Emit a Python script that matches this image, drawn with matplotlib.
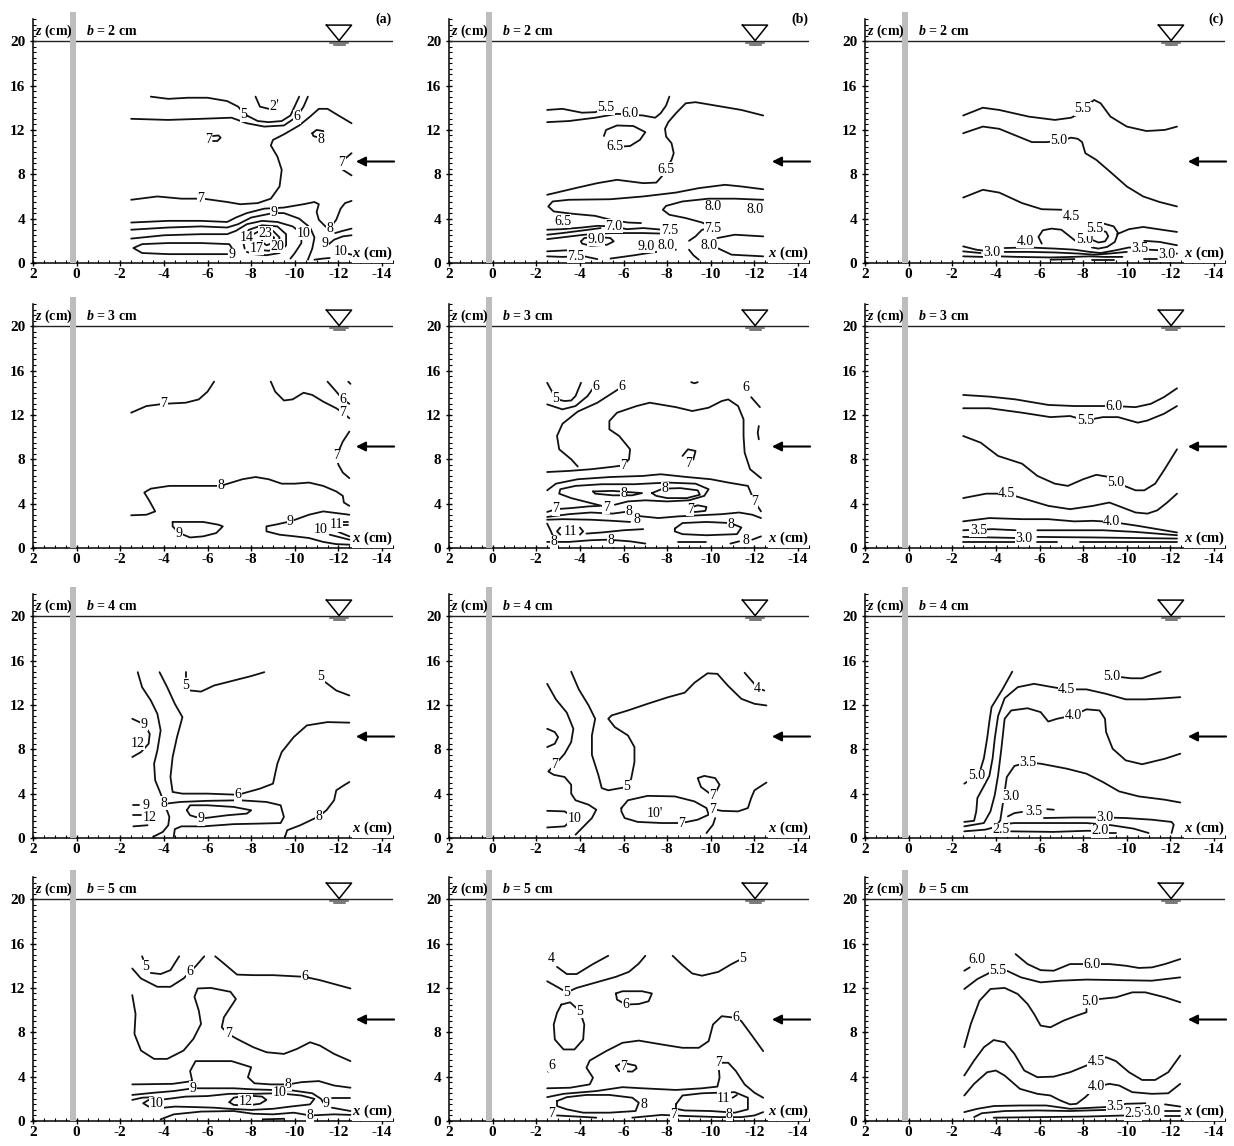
import matplotlib
matplotlib.use('Agg')
import matplotlib.pyplot as plt
from matplotlib.ticker import MultipleLocator

plt.rcParams['font.family'] = 'Liberation Serif'
plt.rcParams['font.weight'] = 'bold'
plt.rcParams['axes.unicode_minus'] = False
plt.rcParams['mathtext.fontset'] = 'custom'
plt.rcParams['mathtext.it'] = 'Liberation Serif:italic:bold'
plt.rcParams['mathtext.rm'] = 'Liberation Serif:bold'

# contour lines, (x cm, z cm); labels (x, z, text)
A1_LINES = [
    [(-3.4,15.0),(-4.2,14.8),(-5.1,14.9),(-6.0,14.9),(-6.9,14.6),(-7.4,14.1),(-7.7,13.4),(-8.3,12.8),(-8.8,12.7),(-9.4,12.8),(-9.8,13.3),(-10.2,15.0)],
    [(-2.5,13.0),(-4.2,12.9),(-5.7,13.0),(-7.1,13.1),(-7.8,12.6),(-8.6,12.3),(-9.5,12.4),(-10.1,13.2),(-10.4,14.1),(-10.6,15.0)],
    [(-8.2,15.0),(-8.4,14.1),(-8.8,13.9),(-9.1,14.1),(-9.2,14.7)],
    [(-2.5,5.7),(-3.7,6.0),(-4.8,5.8),(-5.8,5.8),(-6.9,5.5),(-7.5,5.3),(-8.3,5.4),(-8.9,5.8),(-9.3,6.9),(-9.4,8.4),(-9.2,9.6),(-8.9,10.6),(-9.0,11.1),(-9.5,11.6),(-10.2,12.4),(-10.7,13.2),(-11.1,13.9),(-11.5,13.9),(-12.0,13.3),(-12.6,12.6)],
    [(-6.25,11.45),(-6.5,11.5),(-6.6,11.3),(-6.45,11.0),(-6.25,11.0)],
    [(-10.8,11.7),(-11.0,12.0),(-11.3,11.9),(-11.35,11.5),(-11.1,11.3),(-10.85,11.45),(-10.8,11.7)],
    [(-12.6,9.9),(-12.3,9.4),(-12.15,9.0),(-12.2,8.4),(-12.6,7.9)],
    [(-2.5,3.65),(-4.2,3.8),(-5.7,3.8),(-6.9,3.7),(-7.3,4.1),(-7.8,4.5),(-8.6,4.9),(-9.5,5.0),(-10.4,5.3),(-10.9,5.5),(-11.1,5.3),(-11.0,4.6),(-11.1,3.9),(-11.4,3.3),(-11.6,3.15),(-11.9,3.9),(-12.1,4.9),(-12.3,5.4),(-12.6,5.6)],
    [(-2.5,3.0),(-4.2,3.2),(-5.7,3.3),(-6.9,3.2),(-7.4,3.5),(-8.0,4.1),(-9.0,4.5),(-9.5,4.5),(-10.2,4.0),(-10.7,3.2),(-10.9,2.3),(-10.8,1.3),(-10.6,0.3)],
    [(-2.5,2.2),(-4.0,2.5),(-5.7,2.6),(-6.9,2.6),(-7.3,2.9),(-7.8,3.5),(-8.5,3.8),(-9.2,3.7),(-9.9,3.3),(-10.3,2.7),(-10.3,1.8),(-10.0,0.9),(-9.8,0.4)],
    [(-7.2,1.1),(-7.0,1.7),(-5.7,1.8),(-4.2,1.8),(-3.0,1.7),(-2.6,1.35),(-3.0,0.9),(-4.2,0.8),(-5.7,0.8),(-6.9,0.8)],
    [(-7.7,1.3),(-7.6,2.2),(-7.9,3.0),(-8.5,3.4),(-9.2,3.3),(-9.6,2.6),(-9.6,1.6),(-9.3,0.9),(-8.7,0.7),(-8.1,0.8),(-7.8,1.0)],
    [(-8.0,1.8),(-8.1,2.6),(-8.5,3.0),(-9.0,2.9),(-9.3,2.3),(-9.2,1.4),(-8.8,1.1),(-8.3,1.2)],
    [(-8.5,1.9),(-8.5,2.4),(-8.8,2.6),(-9.05,2.3),(-9.0,1.8),(-8.7,1.6),(-8.5,1.9)],
    [(-11.85,2.7),(-12.2,2.9),(-12.6,3.1)],
    [(-11.5,1.6),(-11.8,2.1),(-12.2,2.4),(-12.6,2.5)],
    [(-12.3,0.9),(-12.6,0.75)],
    [(-10.9,0.3),(-11.3,0.4),(-11.6,0.45)],
]
A1_LABELS = [(-7.65,13.35,'5'),(-10.1,13.2,'6'),(-9.0,14.15,'2'),(-5.7,5.85,'7'),(-6.05,11.15,'7'),
             (-11.2,11.15,'8'),(-12.15,9.05,'7'),(-9.05,4.55,'9'),(-11.6,3.15,'8'),(-10.4,2.7,'10'),
             (-7.8,2.3,'14'),(-8.65,2.7,'23'),(-8.25,1.35,'17'),(-9.2,1.5,'20'),(-7.1,0.75,'9'),
             (-11.4,1.8,'9'),(-12.1,1.05,'10')]

B1_LINES = [
    [(-2.5,13.8),(-3.2,13.9),(-4.1,13.55),(-4.7,13.6),(-5.0,13.8)],
    [(-2.5,12.7),(-3.5,12.8),(-4.7,13.1),(-5.7,13.45),(-6.9,13.3),(-7.45,13.1),(-7.7,13.5),(-7.95,14.2),(-8.1,15.0)],
    [(-5.1,11.45),(-5.2,12.0),(-5.7,12.4),(-6.45,12.35),(-7.0,11.8),(-6.75,11.1),(-6.3,10.55),(-5.9,10.5)],
    [(-2.5,6.15),(-3.9,6.8),(-4.8,7.2),(-5.7,7.5),(-6.9,7.2),(-7.5,7.25),(-7.75,7.8),(-7.95,8.45),(-8.2,9.3),(-8.3,9.9),(-8.2,10.8),(-7.95,11.4),(-7.9,12.1),(-8.05,12.7),(-8.4,13.5),(-8.85,14.4),(-9.3,14.5),(-10.2,14.2),(-11.4,13.8),(-12.4,13.3)],
    [(-12.4,6.65),(-11.4,6.9),(-10.65,7.05),(-9.45,6.75),(-8.4,6.35),(-6.9,6.0),(-5.4,5.75),(-3.5,5.7),(-2.75,5.55),(-2.55,5.1),(-2.8,4.65),(-3.6,4.45),(-4.7,4.25),(-5.4,3.9),(-6.2,3.65),(-6.8,3.6)],
    [(-12.4,5.7),(-11.1,5.8),(-9.9,5.8),(-8.7,5.55),(-7.95,5.15),(-7.8,4.8),(-8.1,4.35),(-8.85,4.05),(-9.6,3.65),(-10.1,3.15),(-9.6,3.0),(-9.3,2.4),(-9.0,2.0)],
    [(-9.0,1.2),(-9.2,0.7),(-9.45,0.3)],
    [(-2.5,3.0),(-3.2,3.05),(-4.1,3.2),(-4.8,3.35),(-5.55,3.3),(-6.15,3.05),(-6.9,3.15),(-7.5,3.05),(-8.1,2.95)],
    [(-2.5,2.55),(-3.2,2.7),(-4.2,2.95),(-4.95,3.15)],
    [(-2.5,2.15),(-3.35,2.35),(-4.2,2.55),(-5.4,2.7),(-6.9,2.7),(-7.8,2.65)],
    [(-4.05,1.95),(-4.2,2.25),(-4.8,2.35),(-5.4,2.25),(-5.55,1.95),(-5.25,1.65),(-4.5,1.55),(-4.1,1.75),(-4.05,1.95)],
    [(-2.5,1.05),(-3.45,1.15)],
    [(-2.5,0.6),(-3.2,0.55),(-3.8,0.6),(-4.2,0.6),(-4.8,0.35)],
    [(-5.4,0.4),(-6.5,0.7),(-7.3,0.95),(-8.0,1.1),(-8.4,1.2)],
    [(-10.3,2.25),(-11.1,2.55),(-12.4,2.4)],
    [(-10.3,1.35),(-10.95,0.75),(-12.4,0.6)],
]
B1_LABELS = [(-5.2,14.0,'5.5'),(-6.3,13.45,'6.0'),(-5.6,10.5,'6.5'),(-7.95,8.45,'6.5'),(-10.1,5.1,'8.0'),
             (-12.05,4.8,'8.0'),(-10.1,3.15,'7.5'),(-3.2,3.75,'6.5'),(-5.55,3.3,'7.0'),(-8.1,2.95,'7.5'),
             (-4.75,2.15,'9.0'),(-3.8,0.6,'7.5'),(-7.05,1.5,'9.0'),(-7.95,1.55,'8.0'),(-9.9,1.55,'8.0')]

C1_LINES = [
    [(-2.5,13.3),(-3.4,14.0),(-4.15,13.8),(-5.5,13.2),(-6.7,12.9),(-7.45,13.1),(-7.7,13.35)],
    [(-8.3,14.4),(-8.5,14.7),(-8.8,14.4),(-9.25,13.2),(-10.0,12.3),(-10.9,11.9),(-11.75,12.0),(-12.3,12.3)],
    [(-2.5,11.7),(-3.4,12.3),(-4.15,12.1),(-4.9,11.5),(-5.65,10.9),(-6.3,10.9),(-6.9,11.0),(-7.45,11.3),(-7.75,11.2),(-7.95,10.9),(-8.1,9.9),(-8.6,9.3),(-9.25,8.2),(-10.0,6.9),(-10.75,6.0),(-11.5,5.5),(-12.3,5.1)],
    [(-2.5,5.9),(-3.4,6.6),(-4.15,6.35),(-5.2,5.4),(-6.1,4.85),(-7.0,4.8)],
    [(-6.1,1.75),(-5.95,2.35),(-6.15,2.95),(-6.55,3.1),(-7.0,3.0),(-7.45,2.3),(-7.7,1.9)],
    [(-8.2,1.7),(-8.15,2.6),(-8.45,3.3),(-8.95,3.55),(-9.4,3.3),(-9.6,2.7),(-9.45,1.9),(-9.1,1.45),(-8.7,1.3),(-8.4,1.4)],
    [(-8.45,3.1),(-8.7,3.0),(-9.05,2.8),(-9.15,2.4),(-9.0,1.95),(-8.7,1.85),(-8.45,2.05)],
    [(-9.55,2.6),(-10.1,3.05),(-10.75,3.25),(-11.6,3.0),(-12.3,2.8)],
    [(-2.5,1.5),(-3.1,1.2),(-3.5,1.1)],
    [(-2.5,1.05),(-3.3,0.9)],
    [(-2.5,0.6),(-3.4,0.55)],
    [(-4.4,1.35),(-5.5,1.4),(-6.7,1.3),(-7.6,1.2),(-8.3,1.0),(-8.8,0.9),(-9.5,1.15),(-10.1,1.4),(-10.4,1.35)],
    [(-4.4,1.0),(-5.5,1.0),(-6.7,0.95),(-7.8,0.85),(-8.5,0.75),(-9.2,0.85),(-10.0,1.0)],
    [(-4.1,0.6),(-5.0,0.55),(-6.5,0.5),(-7.5,0.55),(-8.3,0.6),(-9.0,0.55),(-9.8,0.55)],
    [(-6.5,0.3),(-7.6,0.35)],
    [(-8.4,0.3),(-9.4,0.3)],
    [(-10.8,2.0),(-11.5,1.9),(-12.3,1.6)],
    [(-11.0,1.2),(-11.5,1.15)],
    [(-12.1,0.8),(-12.3,0.85)],
    [(-10.8,0.4),(-11.4,0.4)],
]
C1_LABELS = [(-8.0,13.9,'5.5'),(-6.9,11.0,'5.0'),(-7.45,4.2,'4.5'),(-5.35,1.95,'4.0'),(-8.05,2.1,'5.0'),
             (-8.55,3.1,'5.5'),(-3.8,0.95,'3.0'),(-10.6,1.3,'3.5'),(-11.85,0.75,'3.0')]

A2_LINES = [
    [(-2.5,12.2),(-3.2,12.8),(-4.0,13.0),(-5.0,13.1),(-5.6,13.4),(-6.0,14.1),(-6.3,15.0)],
    [(-8.9,15.0),(-9.1,14.1),(-9.5,13.3),(-9.9,13.4),(-10.4,14.0),(-10.8,13.8),(-11.3,13.2),(-11.9,12.6),(-12.2,12.2),(-12.5,11.7)],
    [(-11.5,15.0),(-11.9,14.1),(-12.2,13.4),(-12.5,13.0)],
    [(-12.45,15.0),(-12.55,14.8)],
    [(-12.5,10.5),(-12.2,9.6),(-12.0,8.7),(-11.9,8.3),(-12.0,7.5),(-12.2,6.8),(-12.5,6.3)],
    [(-2.5,2.95),(-3.2,3.0),(-3.6,3.3),(-3.35,4.2),(-3.1,5.0),(-3.4,5.35),(-4.25,5.6),(-5.8,5.6),(-6.6,5.6),(-7.6,6.2),(-8.2,6.4),(-8.8,6.2),(-9.4,5.8),(-10.0,5.8),(-10.65,5.9),(-11.3,5.6),(-11.9,5.1),(-12.2,4.7),(-12.25,4.1),(-12.5,3.8)],
    [(-4.4,2.35),(-4.9,2.35),(-5.8,2.35),(-6.5,2.1),(-6.7,1.95),(-6.4,1.35),(-5.8,1.05),(-5.2,0.95),(-4.7,1.35),(-4.4,1.95),(-4.4,2.35)],
    [(-12.5,3.0),(-11.9,3.15),(-11.3,3.3),(-10.65,3.0),(-9.8,2.4),(-9.1,2.1),(-8.7,1.95),(-8.7,1.5),(-9.3,1.2),(-10.0,1.05),(-10.65,0.9),(-11.3,0.55),(-11.9,0.35),(-12.5,0.3)],
    [(-11.6,1.2),(-12.5,0.75)],
    [(-12.0,1.45),(-12.5,1.05)],
    [(-12.2,2.3),(-12.45,2.3)],
    [(-12.2,2.05),(-12.45,2.05)],
]
A2_LABELS = [(-4.0,13.0,'7'),(-12.2,12.2,'7'),(-12.2,13.4,'6'),(-11.9,8.3,'7'),(-6.6,5.6,'8'),
             (-4.7,1.35,'9'),(-9.8,2.4,'9'),(-11.2,1.65,'10'),(-11.9,2.1,'11')]

B2_LINES = [
    [(-2.5,14.9),(-2.75,14.0),(-2.95,13.4),(-3.3,13.25),(-3.6,13.3),(-3.8,13.7),(-4.05,14.9)],
    [(-2.5,12.95),(-3.2,12.5),(-3.8,12.8),(-4.35,13.7),(-4.6,14.4)],
    [(-5.75,14.3),(-4.8,13.1),(-3.9,12.3),(-3.2,11.2),(-2.95,10.1),(-3.05,8.9),(-3.6,8.0),(-3.9,7.35)],
    [(-2.5,6.85),(-3.5,6.95),(-4.5,7.1),(-5.4,7.3),(-6.0,7.45),(-6.25,8.0),(-6.3,8.9),(-5.8,10.1),(-5.35,10.7),(-5.35,11.45),(-5.7,12.2),(-6.6,12.8),(-7.2,13.1),(-8.4,12.7),(-9.15,12.35),(-9.9,12.65),(-10.5,13.25),(-10.8,13.4),(-11.25,12.8),(-11.5,11.6),(-11.5,10.1),(-11.55,8.6),(-11.8,7.1),(-12.3,6.3)],
    [(-8.7,8.3),(-8.95,8.9),(-9.3,8.75),(-9.2,8.0),(-9.05,7.7)],
    [(-12.2,11.0),(-12.15,10.4),(-12.2,9.8)],
    [(-11.85,13.6),(-12.25,12.7)],
    [(-9.1,14.95),(-9.25,14.85),(-9.4,14.95)],
    [(-2.5,5.2),(-2.9,5.8),(-3.9,6.2),(-5.4,6.4),(-6.9,6.5),(-7.7,6.65),(-8.9,6.4),(-10.0,6.2),(-10.8,5.9),(-11.7,5.6),(-12.0,4.2),(-12.3,3.3)],
    [(-4.6,5.1),(-5.5,5.15),(-6.5,5.0),(-6.85,4.95),(-6.4,4.75),(-5.5,4.75),(-4.7,4.9),(-4.6,5.1)],
    [(-7.3,4.95),(-7.8,5.35),(-8.6,5.4),(-9.4,5.2),(-9.5,4.8),(-8.9,4.5),(-8.0,4.5),(-7.5,4.7),(-7.3,4.95)],
    [(-5.2,3.7),(-4.4,4.1),(-3.6,4.5),(-3.05,4.9),(-3.1,5.3),(-3.8,5.6),(-5.0,5.75),(-6.5,5.75),(-8.0,5.9),(-9.3,5.8),(-9.9,5.3),(-9.7,4.7),(-9.0,4.3),(-8.0,4.2),(-7.0,4.3),(-6.2,4.2),(-5.6,3.9)],
    [(-2.5,3.25),(-2.9,3.5),(-3.6,3.6),(-4.4,3.75),(-4.9,3.8)],
    [(-2.5,2.8),(-3.5,3.05),(-4.5,3.2),(-5.5,3.1),(-6.25,3.3),(-6.6,2.9),(-7.6,2.7),(-8.5,2.85),(-9.5,2.95),(-10.5,3.05),(-11.3,3.2),(-11.9,3.0),(-12.3,2.7)],
    [(-9.0,3.6),(-9.4,3.85),(-9.8,3.7),(-9.75,3.35),(-9.3,3.25),(-9.05,3.3)],
    [(-8.35,1.75),(-8.7,2.25),(-9.8,2.35),(-10.9,2.25),(-11.4,1.85),(-11.2,1.25),(-9.8,1.15),(-8.7,1.25),(-8.35,1.5),(-8.35,1.75)],
    [(-3.1,1.85),(-2.95,1.5),(-3.1,1.2)],
    [(-4.0,1.85),(-4.15,1.5),(-4.0,1.2)],
    [(-2.5,2.55),(-3.2,2.6),(-4.5,2.55),(-5.5,2.45),(-6.3,2.35)],
    [(-2.5,2.2),(-2.65,1.6),(-2.75,1.15)],
    [(-4.3,1.3),(-5.0,1.4),(-6.0,1.6),(-6.9,1.7)],
    [(-2.5,0.55),(-3.5,0.55),(-4.5,0.7),(-5.3,0.75),(-6.3,0.6),(-7.0,0.4)],
    [(-8.5,0.5),(-9.8,0.5)],
    [(-10.9,0.4),(-11.3,0.6)],
    [(-11.9,0.75),(-12.3,1.05)],
]
B2_LABELS = [(-2.9,13.5,'5'),(-4.75,14.55,'6'),(-5.9,14.6,'6'),(-6.0,7.45,'7'),(-9.0,7.65,'7'),
             (-11.6,14.5,'6'),(-12.0,4.2,'7'),(-6.0,4.95,'8'),(-7.9,5.35,'8'),(-5.2,3.65,'7'),
             (-2.9,3.55,'7'),(-6.25,3.3,'8'),(-6.6,2.55,'8'),(-9.05,3.5,'7'),(-10.9,2.15,'8'),
             (-3.55,1.5,'11'),(-2.8,0.55,'8'),(-5.4,0.7,'8'),(-11.6,0.7,'8')]

C2_LINES = [
    [(-2.5,13.8),(-3.7,13.65),(-4.9,13.4),(-6.4,12.9),(-7.6,12.8),(-9.4,12.8),(-10.4,12.7),(-11.1,13.0),(-11.7,13.6),(-12.3,14.4)],
    [(-2.5,12.6),(-3.7,12.6),(-5.2,12.2),(-6.5,11.8),(-7.4,11.9),(-8.1,11.5),(-8.9,11.8),(-9.6,11.8),(-10.5,11.3),(-10.95,11.5),(-11.7,12.1),(-12.3,12.8)],
    [(-2.5,10.1),(-3.3,9.5),(-4.1,8.3),(-5.2,7.6),(-5.9,6.5),(-6.7,5.8),(-7.3,5.6),(-8.0,6.2),(-8.6,6.6),(-9.2,6.4),(-9.5,5.9),(-10.4,5.2),(-10.8,5.2),(-11.3,5.8),(-11.7,7.0),(-12.3,8.9)],
    [(-2.5,4.5),(-3.55,4.9),(-4.5,4.9),(-5.2,4.5),(-6.4,3.8),(-7.4,3.5),(-8.45,3.8),(-9.2,4.1),(-9.6,3.8),(-10.4,3.2),(-10.95,3.1),(-11.4,3.4),(-11.85,4.1),(-12.3,4.9)],
    [(-2.5,2.4),(-3.7,2.7),(-5.2,2.6),(-6.4,2.6),(-7.6,2.4),(-8.45,2.45),(-9.3,2.35),(-10.5,2.0),(-11.4,1.7),(-12.3,1.4)],
    [(-2.5,1.6),(-3.85,1.7),(-4.9,1.6)],
    [(-5.9,1.6),(-7.4,1.6),(-8.9,1.6),(-10.4,1.45),(-12.3,1.15)],
    [(-2.5,1.0),(-3.85,0.95),(-5.0,0.9)],
    [(-5.9,1.0),(-8.5,0.95),(-12.3,0.85)],
    [(-2.5,0.5),(-4.9,0.5)],
    [(-5.9,0.5),(-6.8,0.5)],
    [(-7.85,0.5),(-12.3,0.5)],
]
C2_LABELS = [(-9.4,12.8,'6.0'),(-8.1,11.5,'5.5'),(-9.5,5.9,'5.0'),(-4.5,4.9,'4.5'),(-9.3,2.35,'4.0'),
             (-3.2,1.6,'3.5'),(-5.3,0.9,'3.0')]

A3_LINES = [
    [(-5.2,13.3),(-5.7,13.2),(-6.3,13.75),(-7.2,14.2),(-8.0,14.6),(-8.6,14.95)],
    [(-5.0,14.95),(-5.0,14.5)],
    [(-11.4,14.05),(-11.9,13.3),(-12.5,12.85)],
    [(-2.8,14.95),(-3.0,13.6),(-3.4,12.4),(-3.7,11.2),(-3.85,9.7),(-3.7,7.9),(-3.55,6.7),(-3.6,5.2),(-3.85,4.0),(-4.0,3.15)],
    [(-3.8,14.95),(-4.15,13.6),(-4.5,12.1),(-4.85,10.9),(-4.6,9.1),(-4.4,7.3),(-4.3,5.5),(-4.4,4.15),(-4.85,4.0),(-6.0,4.0),(-7.4,3.9),(-8.4,4.45),(-9.0,4.9),(-9.2,6.7),(-9.4,7.75),(-9.95,9.1),(-10.55,10.15),(-11.5,10.45),(-12.5,10.4)],
    [(-2.55,10.75),(-3.1,10.25),(-3.35,9.4),(-3.3,8.5),(-2.95,7.75),(-2.55,7.3)],
    [(-9.55,0.1),(-9.65,0.7),(-10.25,1.15),(-11.1,1.95),(-11.45,2.5),(-11.8,3.4),(-11.9,4.3),(-12.25,4.75),(-12.5,5.05)],
    [(-4.45,0.1),(-4.5,0.8),(-4.8,1.05),(-5.8,1.05),(-7.2,1.25),(-8.4,1.3),(-9.35,1.35),(-9.5,1.9),(-9.35,2.95),(-8.7,3.25),(-7.5,3.4),(-6.0,3.35),(-4.75,3.25),(-4.1,3.1)],
    [(-5.05,2.5),(-5.2,2.95),(-6.0,2.95),(-7.2,2.8),(-8.0,2.5),(-7.8,2.2),(-6.9,2.05),(-5.7,1.75),(-5.2,2.05),(-5.05,2.5)],
    [(-2.6,2.95),(-2.85,2.95)],
    [(-2.6,2.05),(-2.95,2.05)],
    [(-2.6,1.05),(-3.25,1.15)],
    [(-3.5,0.1),(-3.95,0.55),(-4.2,1.15),(-4.25,1.9),(-4.1,2.7)],
]
A3_LABELS = [(-5.0,13.75,'5'),(-11.2,14.6,'5'),(-7.4,3.9,'6'),(-3.1,10.25,'9'),(-2.8,8.55,'12'),
             (-11.1,1.95,'8'),(-4.0,3.15,'8'),(-5.7,1.75,'9'),(-3.2,2.9,'9'),(-3.35,1.85,'12')]

B3_LINES = [
    [(-2.5,13.9),(-2.9,12.5),(-3.4,11.3),(-3.7,9.85),(-3.6,8.65),(-3.3,7.6),(-2.85,6.6),(-2.55,6.0),(-2.8,5.7),(-3.3,5.5),(-3.6,4.8),(-3.6,4.0),(-3.8,3.4),(-4.4,3.0),(-4.75,2.55),(-4.55,1.8),(-4.1,0.9),(-3.8,0.3)],
    [(-2.5,9.85),(-2.85,9.55),(-3.0,9.1),(-2.85,8.5),(-2.5,8.2)],
    [(-2.5,2.45),(-3.3,2.4),(-3.6,2.0)],
    [(-3.6,1.6),(-3.3,1.05),(-2.5,0.95)],
    [(-3.6,15.0),(-3.95,13.4),(-4.4,11.95),(-4.7,10.75),(-4.55,9.25),(-4.55,7.5),(-4.85,5.65),(-5.0,4.5),(-5.3,4.3),(-6.15,4.6),(-6.35,5.35),(-6.5,6.85),(-6.5,8.2),(-6.2,9.25),(-5.6,10.0),(-5.3,10.75),(-5.45,11.05),(-6.2,11.5),(-7.1,12.1),(-8.05,12.7),(-8.8,13.1),(-9.25,14.0),(-9.85,14.85),(-10.3,14.8),(-10.8,13.7),(-11.4,12.55),(-12.0,12.1),(-12.55,11.95)],
    [(-11.55,14.9),(-11.95,14.0),(-12.15,13.5),(-12.45,13.3)],
    [(-5.9,2.7),(-6.2,3.4),(-7.1,3.8),(-8.35,3.75),(-9.25,3.3),(-9.8,2.7),(-9.9,2.1),(-9.4,1.65),(-8.65,1.35),(-7.75,1.35),(-6.65,1.45),(-6.05,1.8),(-5.9,2.4),(-5.9,2.7)],
    [(-10.1,3.8),(-9.55,4.6),(-9.4,5.4),(-9.7,5.6),(-10.2,5.4),(-10.4,4.8),(-10.25,4.2),(-10.1,3.8)],
    [(-10.1,2.6),(-10.5,2.45),(-11.25,2.4),(-11.7,2.7),(-11.85,3.6),(-12.0,4.3),(-12.55,5.0)],
    [(-10.2,1.8),(-10.1,1.2),(-9.8,0.45)],
]
B3_LABELS = [(-2.85,6.6,'7'),(-3.75,1.8,'10'),(-6.15,4.6,'5'),(-12.15,13.5,'4'),(-7.45,2.25,"10'"),
             (-8.65,1.35,'7'),(-10.1,3.8,'7'),(-10.1,2.6,'7')]

C3_LINES = [
    [(-9.75,14.5),(-10.2,14.4),(-10.7,14.4),(-11.55,15.0)],
    [(-4.75,15.0),(-4.3,13.4),(-3.8,11.8),(-3.7,10.5),(-3.6,9.0),(-3.45,7.2),(-3.25,5.9),(-3.1,5.6),(-2.55,4.9)],
    [(-2.55,1.45),(-3.0,1.55),(-3.1,2.4),(-3.15,3.6),(-3.4,4.5),(-3.7,5.6),(-3.85,7.2),(-3.95,9.0),(-4.1,11.0),(-4.4,12.6),(-5.0,13.6),(-5.75,13.9),(-6.6,13.6),(-7.25,13.4),(-8.15,13.4),(-9.05,13.0),(-9.95,12.5),(-10.85,12.5),(-11.75,12.6),(-12.45,12.7)],
    [(-2.55,1.05),(-3.45,1.35),(-3.75,2.4),(-3.95,3.9),(-4.1,5.65),(-4.25,8.05),(-4.4,10.75),(-4.7,11.5),(-5.45,11.7),(-6.05,11.35),(-6.4,10.5),(-6.8,10.75),(-7.55,11.05),(-8.15,11.6),(-8.75,11.5),(-9.0,10.75),(-9.05,9.55),(-9.35,8.05),(-9.95,7.0),(-10.7,6.65),(-11.75,7.15),(-12.45,7.6)],
    [(-2.55,0.6),(-3.5,0.75),(-4.0,1.0),(-4.2,1.6),(-4.35,3.5),(-4.5,5.5),(-4.85,6.5),(-5.45,6.8),(-6.05,6.7),(-7.25,6.25),(-8.15,5.8),(-8.9,5.05),(-9.65,4.2),(-10.55,3.75),(-11.75,3.45),(-12.45,3.2)],
    [(-4.55,1.95),(-4.85,2.25),(-5.2,2.35)],
    [(-6.35,2.6),(-6.65,2.55)],
    [(-6.2,1.8),(-7.55,1.85),(-9.0,1.85),(-9.95,1.8),(-11.15,1.65),(-12.05,1.45),(-12.15,1.2),(-12.05,0.45)],
    [(-4.4,1.25),(-4.85,1.35),(-6.65,1.35),(-8.15,1.35),(-9.3,1.15),(-10.3,0.85),(-11.0,0.45)],
    [(-4.7,0.6),(-6.65,0.55),(-8.15,0.65),(-8.5,0.65)],
    [(-9.2,0.45),(-9.5,0.45)],
]
C3_LABELS = [(-9.3,14.55,'5.0'),(-3.1,5.6,'5.0'),(-7.25,13.4,'4.5'),(-7.55,11.05,'4.0'),(-5.45,6.8,'3.5'),
             (-4.7,3.75,'3.0'),(-5.75,2.4,'3.5'),(-9.0,1.85,'3.0'),(-4.25,0.75,'2.5'),(-8.75,0.65,'2.0')]

A4_LINES = [
    [(-3.4,13.35),(-3.85,13.25),(-4.3,13.6),(-4.7,14.85)],
    [(-3.0,14.85),(-3.05,14.6)],
    [(-2.55,13.75),(-2.95,12.85),(-3.7,12.1),(-4.3,12.1),(-4.9,12.85),(-5.2,13.45),(-5.5,14.05),(-5.85,14.85)],
    [(-6.35,14.85),(-6.75,14.2),(-7.35,13.2),(-8.1,13.15),(-9.0,13.15),(-10.45,13.0),(-11.15,12.7),(-11.8,12.35),(-12.55,11.95)],
    [(-2.55,11.35),(-2.7,9.65),(-2.65,7.85),(-2.95,6.35),(-3.55,5.6),(-4.15,5.6),(-4.9,6.35),(-5.35,7.4),(-5.7,8.75),(-5.6,9.95),(-5.4,11.2),(-5.55,11.95),(-6.15,12.0),(-7.05,11.65),(-7.3,11.0),(-7.05,10.25),(-6.75,9.35),(-6.65,8.45),(-6.95,7.85),(-7.35,7.4),(-8.1,6.65),(-8.7,6.2),(-9.5,6.05),(-10.1,6.5),(-10.7,7.1),(-11.15,6.8),(-11.8,6.05),(-12.55,5.4)],
    [(-2.55,3.3),(-4.4,3.35),(-5.3,3.6),(-5.2,4.5),(-5.45,5.4),(-7.1,5.4),(-8.0,4.85),(-7.85,3.95),(-8.15,3.4),(-8.9,3.3),(-9.7,3.3),(-10.3,3.5),(-11.1,3.6),(-11.8,3.2),(-12.55,3.0)],
    [(-2.55,2.35),(-3.55,2.55),(-4.45,2.7),(-5.35,2.95),(-6.0,2.95),(-7.2,2.95),(-8.1,2.85),(-9.0,2.8),(-9.9,2.75),(-10.8,2.5),(-11.2,2.0),(-11.3,1.65)],
    [(-11.7,2.05),(-12.55,2.05)],
    [(-11.7,1.2),(-12.55,0.9)],
    [(-4.0,1.95),(-5.0,2.2),(-6.0,2.25),(-7.0,2.45),(-8.1,2.45),(-9.25,2.5),(-10.3,2.3),(-10.9,2.0),(-10.7,1.5),(-9.8,1.3),(-9.0,1.1),(-8.0,1.0),(-7.0,1.1),(-6.3,1.2),(-5.5,1.25),(-4.5,1.3),(-4.0,1.2)],
    [(-2.55,1.9),(-3.0,2.1),(-3.5,2.15)],
    [(-3.3,1.9),(-3.05,1.6),(-3.3,1.3)],
    [(-7.0,1.7),(-7.2,2.1),(-7.8,2.3),(-8.5,2.2),(-8.7,1.9),(-8.4,1.55),(-7.8,1.4),(-7.2,1.45),(-7.0,1.7)],
    [(-3.85,0.15),(-4.45,0.6),(-5.7,0.85),(-7.2,0.9),(-8.1,0.65),(-9.0,0.6),(-9.95,0.75),(-10.7,0.5),(-11.8,0.6),(-12.55,0.55)],
    [(-8.55,0.15),(-9.5,0.2)],
]
A4_LABELS = [(-3.15,13.9,'5'),(-5.2,13.45,'6'),(-10.45,13.0,'6'),(-6.95,7.85,'7'),(-9.7,3.3,'8'),
             (-5.35,2.95,'9'),(-9.3,2.55,'10'),(-11.45,1.6,'9'),(-3.65,1.55,'10'),(-7.75,1.8,'12'),
             (-10.7,0.5,'8')]

B4_LINES = [
    [(-2.95,13.9),(-3.4,13.25),(-3.85,13.25),(-4.6,14.15),(-5.3,14.9)],
    [(-2.5,12.6),(-2.95,12.1),(-3.4,11.6),(-3.85,12.0),(-4.75,12.5),(-5.65,13.0),(-6.25,13.45),(-6.7,14.2),(-7.0,14.9)],
    [(-8.25,14.9),(-8.7,14.05),(-9.15,13.3),(-9.6,13.1),(-10.35,13.45),(-10.95,14.15),(-11.45,14.65)],
    [(-5.65,11.5),(-5.95,11.7),(-6.85,11.7),(-7.3,11.5),(-7.15,10.8),(-6.7,10.55),(-6.1,10.5),(-5.7,10.95),(-5.65,11.5)],
    [(-3.15,10.5),(-3.55,10.7),(-4.0,9.9),(-4.2,8.7),(-4.15,7.35),(-3.75,6.45),(-3.25,6.45),(-2.85,7.35),(-2.8,8.7),(-2.95,9.75),(-3.15,10.5)],
    [(-2.55,4.45),(-2.65,4.6)],
    [(-2.5,2.95),(-3.55,3.0),(-4.45,3.3),(-4.6,3.9),(-4.3,4.8),(-4.45,5.45),(-5.2,6.3),(-5.95,7.05),(-6.7,7.25),(-7.75,6.9),(-8.7,6.6),(-9.45,6.6),(-9.9,7.2),(-10.1,8.7),(-10.5,9.45),(-11.15,9.3),(-11.4,9.0),(-11.85,7.8),(-12.4,6.3)],
    [(-5.65,4.95),(-5.95,5.25),(-6.55,5.0),(-6.6,4.75),(-6.4,4.45),(-5.8,4.5),(-5.65,4.95)],
    [(-2.5,2.15),(-3.25,2.45),(-4.75,2.7),(-5.95,3.05),(-6.85,2.95),(-8.4,2.8),(-9.6,2.95),(-10.3,3.1),(-10.4,3.9),(-10.35,5.25),(-10.8,5.25),(-11.15,4.5),(-11.55,3.3),(-12.0,2.55),(-12.4,2.1)],
    [(-2.95,1.8),(-3.4,2.15),(-4.3,2.35),(-5.35,2.35),(-6.4,2.1),(-6.7,1.65),(-6.55,0.9),(-5.35,0.75),(-4.15,0.75),(-3.4,1.05),(-2.95,1.35),(-2.95,1.8)],
    [(-8.4,1.5),(-8.7,2.3),(-9.6,2.5),(-11.1,2.6),(-11.7,2.1),(-11.7,1.05),(-11.1,0.75),(-10.0,0.9),(-8.8,0.95),(-8.4,1.1),(-8.4,1.5)],
    [(-11.0,2.1),(-11.2,2.35)],
    [(-2.95,0.5),(-4.75,0.3)],
    [(-6.4,0.3),(-7.75,0.55),(-8.85,0.45),(-10.4,0.35),(-11.4,0.35),(-12.0,0.5),(-12.4,0.8)],
]
B4_LABELS = [(-2.7,14.65,'4'),(-3.4,11.6,'5'),(-11.45,14.65,'5'),(-6.1,10.5,'6'),(-4.0,9.9,'5'),
             (-2.7,5.0,'6'),(-11.15,9.3,'6'),(-6.0,4.95,'7'),(-10.35,5.25,'7'),(-6.95,1.5,'8'),
             (-10.6,2.05,'11'),(-10.85,0.6,'8'),(-2.7,0.7,'7'),(-8.3,0.55,'7')]

C4_LINES = [
    [(-2.55,13.55),(-2.8,13.85)],
    [(-4.9,15.05),(-5.45,14.15),(-6.05,13.6),(-6.65,13.55),(-7.4,14.15),(-8.4,14.15),(-9.2,14.15),(-9.95,14.0),(-10.55,13.8),(-11.15,13.85),(-11.75,14.15),(-12.45,14.6)],
    [(-2.55,11.9),(-3.15,12.8),(-3.75,13.4),(-4.1,13.55),(-4.5,13.55),(-5.15,12.95),(-6.05,12.5),(-6.95,12.65),(-8.15,12.75),(-9.65,12.7),(-11.15,12.65),(-12.45,12.95)],
    [(-2.55,6.65),(-2.85,8.75),(-3.25,10.85),(-3.75,11.9),(-4.4,12.0),(-5.0,11.45),(-5.45,10.55),(-5.75,9.65),(-6.05,8.6),(-6.5,8.45),(-7.1,9.05),(-7.7,9.5),(-8.15,9.8),(-8.15,10.1)],
    [(-8.75,11.0),(-9.5,11.15),(-10.25,11.6),(-10.85,11.6),(-11.75,11.15),(-12.45,10.7)],
    [(-2.55,4.1),(-3.0,5.45),(-3.45,6.65),(-3.9,7.3),(-4.4,7.1),(-4.85,6.05),(-5.3,4.55),(-5.9,3.95),(-6.65,4.0),(-7.4,4.4),(-8.15,5.0),(-8.6,5.4),(-9.05,5.75),(-9.5,5.4),(-10.1,4.4),(-10.7,3.7),(-11.3,3.7),(-11.9,4.4),(-12.45,5.9)],
    [(-2.55,2.3),(-3.0,3.35),(-3.6,4.4),(-4.0,4.55),(-4.4,4.1),(-5.1,2.9),(-5.9,2.45),(-6.5,2.3),(-6.95,1.85),(-7.4,1.5),(-7.7,1.55),(-8.1,2.15),(-8.6,3.1),(-9.2,3.35),(-9.65,3.2),(-10.25,2.6),(-11.15,2.45),(-11.9,2.5),(-12.45,3.35)],
    [(-2.55,0.8),(-3.15,1.1),(-3.9,1.35),(-5.1,1.4),(-6.3,1.4),(-7.4,1.1),(-8.45,1.2),(-9.45,1.3),(-9.95,1.55),(-10.85,1.6)],
    [(-11.75,1.5),(-12.45,1.3)],
    [(-3.0,0.35),(-3.35,0.7),(-4.4,0.9),(-5.9,0.95),(-7.4,0.9),(-9.05,1.0),(-11.15,0.9)],
    [(-11.75,0.9),(-12.45,0.9)],
    [(-3.9,0.3),(-5.9,0.35),(-8.15,0.4),(-9.95,0.5),(-10.3,0.65)],
    [(-11.75,0.45),(-12.45,0.45)],
]
C4_LABELS = [(-3.15,14.6,'6.0'),(-8.4,14.15,'6.0'),(-4.1,13.55,'5.5'),(-8.3,10.8,'5.0'),(-8.6,5.4,'4.5'),
             (-8.6,3.1,'4.0'),(-9.45,1.3,'3.5'),(-10.3,0.65,'2.5'),(-11.15,0.9,'3.0')]

B_VALUES = [2, 3, 4, 5]
TAGS = ['(a)', '(b)', '(c)']
PANELS = [
    [(A1_LINES, A1_LABELS), (B1_LINES, B1_LABELS), (C1_LINES, C1_LABELS)],
    [(A2_LINES, A2_LABELS), (B2_LINES, B2_LABELS), (C2_LINES, C2_LABELS)],
    [(A3_LINES, A3_LABELS), (B3_LINES, B3_LABELS), (C3_LINES, C3_LABELS)],
    [(A4_LINES, A4_LABELS), (B4_LINES, B4_LABELS), (C4_LINES, C4_LABELS)],
]

W, H = 1234, 1146
col_left = [33, 449, 865]
row_bottom = [263, 548, 838, 1121]
ax_w, ax_h = 360, 244

fig = plt.figure(figsize=(W / 100, H / 100), dpi=100)

for r in range(4):
    for c in range(3):
        lines, labels = PANELS[r][c]
        ax = fig.add_axes([col_left[c] / W, 1 - row_bottom[r] / H, ax_w / W, ax_h / H])
        ax.set_xlim(2, -14.5)
        ax.set_ylim(0, 22)
        ax.spines['top'].set_visible(False)
        ax.spines['right'].set_visible(False)
        ax.spines['left'].set_linewidth(1.1)
        ax.spines['bottom'].set_linewidth(1.1)
        ax.xaxis.set_major_locator(MultipleLocator(2))
        ax.xaxis.set_minor_locator(MultipleLocator(0.5))
        ax.yaxis.set_major_locator(MultipleLocator(4))
        ax.yaxis.set_minor_locator(MultipleLocator(0.5))
        ax.tick_params(which='major', direction='inout', length=5, width=1.0, labelsize=11)
        ax.tick_params(which='minor', direction='in', length=2.5, width=0.8)
        ax.tick_params(axis='x', pad=1)
        ax.tick_params(axis='y', pad=3)

        # pier (grey bar), water surface, flow arrow
        ax.axvspan(0.03, 0.31, ymin=0, ymax=1.03, color='#bdbdbd', lw=0, clip_on=False, zorder=3)
        ax.axhline(20, color='#222222', lw=1.0, zorder=2)
        ax.plot([-11.45, -12.6, -12.03, -11.45], [21.45, 21.45, 20.05, 21.45], color='black', lw=1.1, clip_on=False)
        ax.plot([-11.6, -12.45], [19.8, 19.8], color='#555555', lw=1.1)
        ax.plot([-11.8, -12.3], [19.62, 19.62], color='#555555', lw=1.1)
        ax.annotate('', xy=(-12.8, 9.15), xytext=(-14.55, 9.15),
                    arrowprops=dict(arrowstyle='-|>', color='black', lw=1.5, mutation_scale=14,
                                    shrinkA=0, shrinkB=0),
                    annotation_clip=False)

        for pts in lines:
            ax.plot([p[0] for p in pts], [p[1] for p in pts], color='#111111', lw=1.3,
                    solid_joinstyle='round', solid_capstyle='round', zorder=4)
        for x, z, s in labels:
            ax.text(x, z, s, fontsize=10, fontweight='normal', ha='center', va='center', zorder=5,
                    bbox=dict(facecolor='white', edgecolor='none', pad=0.3))

        ax.text(1.9, 20.9, '$z$ (cm)', fontsize=10, ha='left', va='center', zorder=6)
        ax.text(-0.45, 20.9, '$b$ = %d cm' % B_VALUES[r], fontsize=10, ha='left', va='center', zorder=6)
        ax.text(-14.5, 0.85, '$x$ (cm)', fontsize=10.5, ha='right', va='center', zorder=6,
                bbox=dict(facecolor='white', edgecolor='none', pad=0.3))
        if r == 0:
            ax.text(-14.45, 22.0, TAGS[c], fontsize=10, ha='right', va='center')

fig.savefig('out.png', dpi=100)
